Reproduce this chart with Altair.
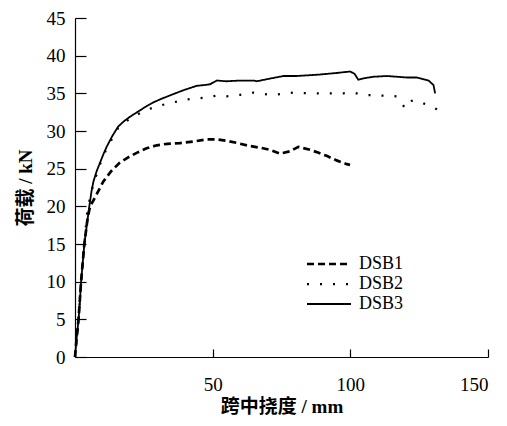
import altair as alt
import pandas as pd

series_names = ["DSB1", "DSB2", "DSB3"]

dsb1_x = [0, 0.6, 1.3, 2.2, 3.4, 4.6, 5.5, 7.3, 10.3, 13.2, 16.3, 19.3, 22.4, 26, 29.7, 33.5, 38.1, 43, 47.8, 51.5,
          55.1, 59, 63.6, 67, 70.8, 74.5, 78.1, 81.1, 85.4, 88.5, 91.4, 95, 98.7, 99.9]
dsb1_y = [0, 2.5, 5, 10, 15, 18.5, 20, 21.2, 23.3, 24.7, 25.8, 26.5, 27.1, 27.7, 28.1, 28.3, 28.4, 28.6, 28.9, 28.9,
          28.7, 28.4, 28.0, 27.8, 27.5, 27.0, 27.3, 27.9, 27.5, 27.1, 26.7, 26.1, 25.6, 25.5]

dsb2_x = [0, 0.6, 1.3, 2.2, 3.4, 4.5, 5.4, 6.7, 9.1, 11.5, 15.7, 20, 26, 30, 34.5, 40.6, 46.6, 51.5, 55, 59.9,
          64.8, 70.8, 75, 79.3, 85, 92.6, 97.5, 101, 104.7, 112, 116.8, 118.7, 119.9, 122.3, 124.7, 127, 130.2, 132.6]
dsb2_y = [0, 2.5, 5, 10, 15, 19.5, 21, 23.0, 25.6, 27.7, 30.4, 31.7, 32.8, 33.3, 33.7, 34.2, 34.4, 34.7, 34.6, 34.8,
          35.1, 34.8, 34.9, 35.1, 35.0, 35.0, 35.0, 35.1, 34.8, 34.7, 34.6, 33.7, 33.0, 34.0, 34.0, 33.6, 33.1, 32.7]

dsb3_x = [0, 0.6, 1.3, 1.8, 2.2, 2.8, 3.4, 4.3, 5.2, 6.0, 6.7, 7.8, 9.1, 10.3, 11.5, 13.5, 15.7, 17.8, 20, 23,
          26, 28.5, 30.9, 35, 39.3, 44.2, 47, 49, 51.5, 55, 60, 64.8, 66, 70, 75.7, 80.5, 85, 89, 95, 99.9,
          101.5, 102.9, 105, 108.4, 113.2, 117, 120.5, 124.1, 128.4, 130.2, 130.8]
dsb3_y = [0, 2.5, 5, 7.5, 10, 12.5, 15, 17.5, 20, 22, 23.3, 24.6, 25.8, 26.9, 27.9, 29.3, 30.6, 31.3, 31.9, 32.6,
          33.3, 33.8, 34.2, 34.8, 35.4, 36.0, 36.1, 36.2, 36.7, 36.6, 36.7, 36.7, 36.6, 36.9, 37.3, 37.3, 37.4, 37.5, 37.7, 37.9,
          37.6, 36.8, 37.0, 37.2, 37.3, 37.2, 37.1, 37.1, 36.7, 36.1, 35.0]

y_ticks = [0, 5, 10, 15, 20, 25, 30, 35, 40, 45]
x_ticks = [50, 100, 150]

rows = []
for name, xs, ys in [("DSB1", dsb1_x, dsb1_y), ("DSB2", dsb2_x, dsb2_y), ("DSB3", dsb3_x, dsb3_y)]:
    for i, (a, b) in enumerate(zip(xs, ys)):
        rows.append({"series": name, "x": a, "y": b, "i": i})
df = pd.DataFrame(rows)

W, H = 413, 339
serif = "Liberation Serif"
title_font = "Liberation Serif, Noto Sans CJK SC"

xscale = alt.Scale(domain=[0, 150], nice=False, zero=False)
yscale = alt.Scale(domain=[0, 45], nice=False, zero=False)

x_axis = alt.Axis(
    values=x_ticks, ticks=True, tickSize=alt.ExprRef(expr="-8"), tickColor="black", tickWidth=1.2,
    grid=False, labelPadding=26, labelFlush=True, labelOverlap=False,
    labelFont=serif, labelFontSize=19, labelColor="black",
    domainColor="black", domainWidth=1.2,
    title="跨中挠度 / mm", titleFont=title_font, titleFontSize=19, titleFontWeight="bold",
    titleColor="black", titlePadding=3)
y_axis = alt.Axis(
    values=y_ticks, ticks=True, tickSize=alt.ExprRef(expr="-11"), tickColor="black", tickWidth=1.2,
    grid=False, labelPadding=21, labelOverlap=False,
    labelFont=serif, labelFontSize=19, labelColor="black",
    domainColor="black", domainWidth=1.2,
    title="荷载 / kN", titleFont=title_font, titleFontSize=19, titleFontWeight="bold",
    titleColor="black", titlePadding=11)

chart = alt.Chart(df).mark_line(color="black", strokeCap="butt").encode(
    x=alt.X("x:Q", scale=xscale, axis=x_axis),
    y=alt.Y("y:Q", scale=yscale, axis=y_axis),
    strokeDash=alt.StrokeDash("series:N", scale=alt.Scale(
        domain=series_names, range=[[7, 4], [2, 11], [1, 0]]),
        legend=alt.Legend(title=None, orient="none", legendX=245, legendY=237, padding=0,
                          symbolType="M-4.4,0H4.4", symbolSize=100, symbolStrokeColor="black",
                          symbolStrokeWidth=1.6,
                          labelFont=serif, labelFontSize=18, labelColor="black",
                          labelOffset=21, rowPadding=2)),
    strokeWidth=alt.StrokeWidth("series:N", scale=alt.Scale(
        domain=series_names, range=[2.7, 1.8, 2.6]), legend=None),
    order="i:Q",
).properties(
    width=W, height=H, background="white",
    autosize=alt.AutoSizeParams(type="none"),
    padding={"left": 67, "top": 10, "right": 10, "bottom": 60},
).configure_view(stroke=None)

chart.save("out.html", embed_options={"renderer": "svg", "actions": False})
